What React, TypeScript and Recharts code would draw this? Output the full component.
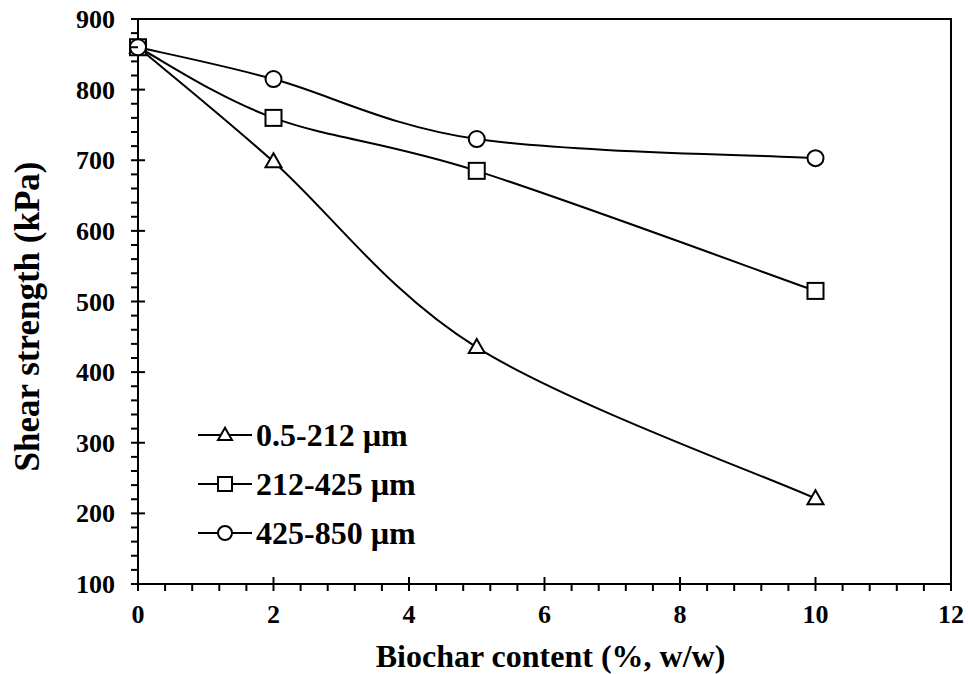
import React from "react";
import {
  LineChart,
  Line,
  XAxis,
  YAxis,
  Legend,
  ReferenceArea,
} from "recharts";

const biochar = [0, 2, 5, 10];
const fine = [860, 698, 435, 221];
const medium = [860, 760, 685, 515];
const coarse = [860, 815, 730, 703];
const seriesNames = ["0.5-212 µm", "212-425 µm", "425-850 µm"];

// minor ticks: 5 per major step
const xTicks = Array.from({ length: 31 }, (_, i) => (i * 2) / 5);
const yTicks = Array.from({ length: 41 }, (_, i) => 100 + i * 20);

const data = biochar.map((x, i) => ({
  x,
  fine: fine[i],
  medium: medium[i],
  coarse: coarse[i],
}));

const FONT = "'Liberation Serif', 'Times New Roman', serif";
const SHAPES: Record<string, string> = {
  [seriesNames[0]]: "triangle",
  [seriesNames[1]]: "square",
  [seriesNames[2]]: "circle",
};

// Excel-like smoothed line (Catmull-Rom as cubic beziers)
function smoothCurve(context: any) {
  let pts: [number, number][] = [];
  return {
    areaStart() {},
    areaEnd() {},
    lineStart() {
      pts = [];
    },
    point(x: number, y: number) {
      pts.push([+x, +y]);
    },
    lineEnd() {
      const n = pts.length;
      if (!n) return;
      context.moveTo(pts[0][0], pts[0][1]);
      for (let i = 0; i < n - 1; i++) {
        const p0 = pts[Math.max(i - 1, 0)];
        const p1 = pts[i];
        const p2 = pts[i + 1];
        const p3 = pts[Math.min(i + 2, n - 1)];
        context.bezierCurveTo(
          p1[0] + (p2[0] - p0[0]) / 6,
          p1[1] + (p2[1] - p0[1]) / 6,
          p2[0] - (p3[0] - p1[0]) / 6,
          p2[1] - (p3[1] - p1[1]) / 6,
          p2[0],
          p2[1]
        );
      }
    },
  };
}

function Marker({ cx, cy, shape, r = 8 }: { cx: number; cy: number; shape: string; r?: number }) {
  if (shape === "triangle") {
    const h = r * 1.75;
    return (
      <polygon
        points={`${cx},${cy - h * 0.6} ${cx - r},${cy + h * 0.4} ${cx + r},${cy + h * 0.4}`}
        fill="#fff"
        stroke="#000"
        strokeWidth={2}
      />
    );
  }
  if (shape === "square") {
    return <rect x={cx - r} y={cy - r} width={r * 2} height={r * 2} fill="#fff" stroke="#000" strokeWidth={2} />;
  }
  return <circle cx={cx} cy={cy} r={r} fill="#fff" stroke="#000" strokeWidth={2} />;
}

const isMajor = (v: number, step: number) => Math.abs(v / step - Math.round(v / step)) < 1e-6;

const YTick = (props: any) => {
  const { x, y, payload } = props;
  const major = isMajor(payload.value, 100);
  return (
    <g>
      <line x1={x - 7} x2={major ? x + 7 : x} y1={y} y2={y} stroke="#000" strokeWidth={2} />
      {major && (
        <text x={x - 23} y={y + 9} textAnchor="end" fontFamily={FONT} fontWeight="bold" fontSize={26} fill="#000">
          {payload.value}
        </text>
      )}
    </g>
  );
};

const XTick = (props: any) => {
  const { x, y, payload } = props;
  const major = isMajor(payload.value, 2);
  return (
    <g>
      <line x1={x} x2={x} y1={major ? y - 7 : y} y2={y + 7} stroke="#000" strokeWidth={2} />
      {major && (
        <text x={x} y={y + 39} textAnchor="middle" fontFamily={FONT} fontWeight="bold" fontSize={26} fill="#000">
          {Math.round(payload.value)}
        </text>
      )}
    </g>
  );
};

const XTitle = (props: any) => {
  const { viewBox } = props;
  return (
    <text
      x={viewBox.x + viewBox.width / 2 + 6}
      y={viewBox.y + 83}
      textAnchor="middle"
      fontFamily={FONT}
      fontWeight="bold"
      fontSize={32}
      fill="#000"
    >
      Biochar content (%, w/w)
    </text>
  );
};

const YTitle = (props: any) => {
  const { viewBox } = props;
  const cx = viewBox.x + 28;
  const cy = viewBox.y + viewBox.height / 2 + 15;
  return (
    <text
      x={cx}
      y={cy}
      dy={11}
      transform={`rotate(-90, ${cx}, ${cy})`}
      textAnchor="middle"
      fontFamily={FONT}
      fontWeight="bold"
      fontSize={35}
      fill="#000"
    >
      Shear strength (kPa)
    </text>
  );
};

const LegendContent = (props: any) => {
  const { payload } = props;
  return (
    <div>
      {(payload || []).map((entry: any) => (
        <div key={entry.value} style={{ display: "flex", alignItems: "center", height: 49 }}>
          <svg width={56} height={20}>
            <line x1={1} x2={55} y1={10} y2={10} stroke="#000" strokeWidth={2} />
            <Marker cx={28} cy={10} shape={SHAPES[entry.value]} r={7} />
          </svg>
          <span
            style={{ fontFamily: FONT, fontWeight: "bold", fontSize: 32, color: "#000", marginLeft: 3, lineHeight: 1 }}
          >
            {entry.value}
          </span>
        </div>
      ))}
    </div>
  );
};

const makeDot = (shape: string) => (p: any) => (
  <Marker key={`${shape}-${p.index}`} cx={p.cx} cy={p.cy} shape={shape} />
);

export default function App() {
  return (
    <div style={{ position: "absolute", left: 0, top: 0, width: 968, height: 674, background: "#fff" }}>
      <LineChart width={968} height={674} data={data} margin={{ top: 19, right: 17, left: 0, bottom: 0 }}>
        <XAxis
          dataKey="x"
          type="number"
          domain={[0, 12]}
          ticks={xTicks}
          interval={0}
          tickSize={0}
          tickMargin={0}
          height={90}
          axisLine={{ stroke: "#000", strokeWidth: 2 }}
          tickLine={false}
          tick={<XTick />}
          label={<XTitle />}
        />
        <YAxis
          type="number"
          domain={[100, 900]}
          ticks={yTicks}
          interval={0}
          tickSize={0}
          tickMargin={0}
          width={138}
          axisLine={{ stroke: "#000", strokeWidth: 2 }}
          tickLine={false}
          tick={<YTick />}
          label={<YTitle />}
        />
        <ReferenceArea x1={0} x2={12} y1={100} y2={900} fill="none" stroke="#000" strokeWidth={2} />
        <Legend
          layout="vertical"
          align="center"
          verticalAlign="middle"
          content={<LegendContent />}
          wrapperStyle={{ left: 197, top: 410, width: 300 }}
        />
        <Line
          name={seriesNames[0]}
          dataKey="fine"
          type={smoothCurve as any}
          stroke="#000"
          strokeWidth={2}
          dot={makeDot("triangle")}
          isAnimationActive={false}
        />
        <Line
          name={seriesNames[1]}
          dataKey="medium"
          type={smoothCurve as any}
          stroke="#000"
          strokeWidth={2}
          dot={makeDot("square")}
          isAnimationActive={false}
        />
        <Line
          name={seriesNames[2]}
          dataKey="coarse"
          type={smoothCurve as any}
          stroke="#000"
          strokeWidth={2}
          dot={makeDot("circle")}
          isAnimationActive={false}
        />
      </LineChart>
    </div>
  );
}
